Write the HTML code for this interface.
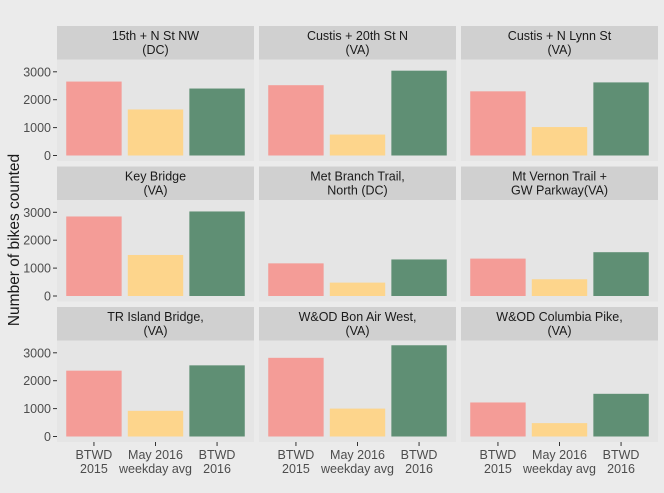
<!DOCTYPE html>
<html><head><meta charset="utf-8"><style>
body{margin:0;background:#EBEBEB;}
svg{display:block;font-family:"Liberation Sans",sans-serif;}
</style></head><body>
<svg id="c" width="664" height="493"></svg>
<script>
const panels = ["15th + N St NW\n(DC)","Custis + 20th St N\n(VA)","Custis + N Lynn St\n(VA)","Key Bridge\n(VA)","Met Branch Trail,\nNorth (DC)","Mt Vernon Trail +\nGW Parkway(VA)","TR Island Bridge,\n(VA)","W&OD Bon Air West,\n(VA)","W&OD Columbia Pike,\n(VA)"];
const categories = ["BTWD\n2015","May 2016\nweekday avg","BTWD\n2016"];
const btwd2015 = [2650,2520,2300,2850,1170,1340,2360,2820,1220];
const may2016 = [1650,750,1020,1470,480,600,920,1000,480];
const btwd2016 = [2400,3040,2620,3030,1310,1570,2550,3270,1530];
const yTicks = [0,1000,2000,3000];
const colors = ["#F49C97","#FDD58C","#5F8F74"];
const NS="http://www.w3.org/2000/svg";
const svg=document.getElementById('c');
function mk(t,a,p){const e=document.createElementNS(NS,t);for(const k in a)e.setAttribute(k,a[k]);(p||svg).appendChild(e);return e;}
const colX=[57,259,461], pw=197;
const rowY=[26,166.5,307], sh=33.5, ph=101.5;
const maxV=3400;
for(let i=0;i<9;i++){
  const r=Math.floor(i/3), c=i%3;
  const x0=colX[c], sy=rowY[r], py=sy+sh, zero=py+96.5-0.5;
  const yScale=v=>zero-v*(83.7/3000);
  const xScale=k=>x0+(k+0.6)*(pw/3.2);
  const g=mk('g',{});
  
  
  const st=mk('rect',{x:x0,y:sy,width:pw,height:sh,fill:'#D0D0D0'},g);
  
  const lines=panels[i].split('\n');
  lines.forEach((l,j)=>{const t=mk('text',{x:x0+pw/2,y:sy+14+j*14,'text-anchor':'middle','font-size':12.5,fill:'#1A1A1A'},g);t.textContent=l;});
  const bg=mk('rect',{x:x0,y:py,width:pw,height:ph,fill:'#E5E5E5'},g);
  
  const vals=[btwd2015[i],may2016[i],btwd2016[i]];
  const bw=0.9*pw/3.2;
  vals.forEach((v,k)=>{const b=mk('rect',{x:xScale(k)-bw/2,y:yScale(v),width:bw,height:zero-yScale(v),fill:colors[k]},g);});
  if(c===0){yTicks.forEach(t=>{const y=yScale(t);mk('line',{x1:x0-4,x2:x0,y1:y,y2:y,stroke:'#333','stroke-width':1},g);const tx=mk('text',{x:x0-6,y:y+4.5,'text-anchor':'end','font-size':12.5,fill:'#4D4D4D'},g);tx.textContent=t;});}
  if(r===2){categories.forEach((cat,k)=>{const x=xScale(k);mk('line',{x1:x,x2:x,y1:py+ph,y2:py+ph+4,stroke:'#333','stroke-width':1},g);cat.split('\n').forEach((l,j)=>{const tx=mk('text',{x:x,y:py+ph+17+j*14,'text-anchor':'middle','font-size':12.5,fill:'#4D4D4D'},g);tx.textContent=l;});});}
}
const yt=mk('text',{x:0,y:0,transform:'translate(19,240) rotate(-90)','text-anchor':'middle','font-size':15.5,fill:'#1A1A1A'});
yt.textContent='Number of bikes counted';


</script>
</body></html>
